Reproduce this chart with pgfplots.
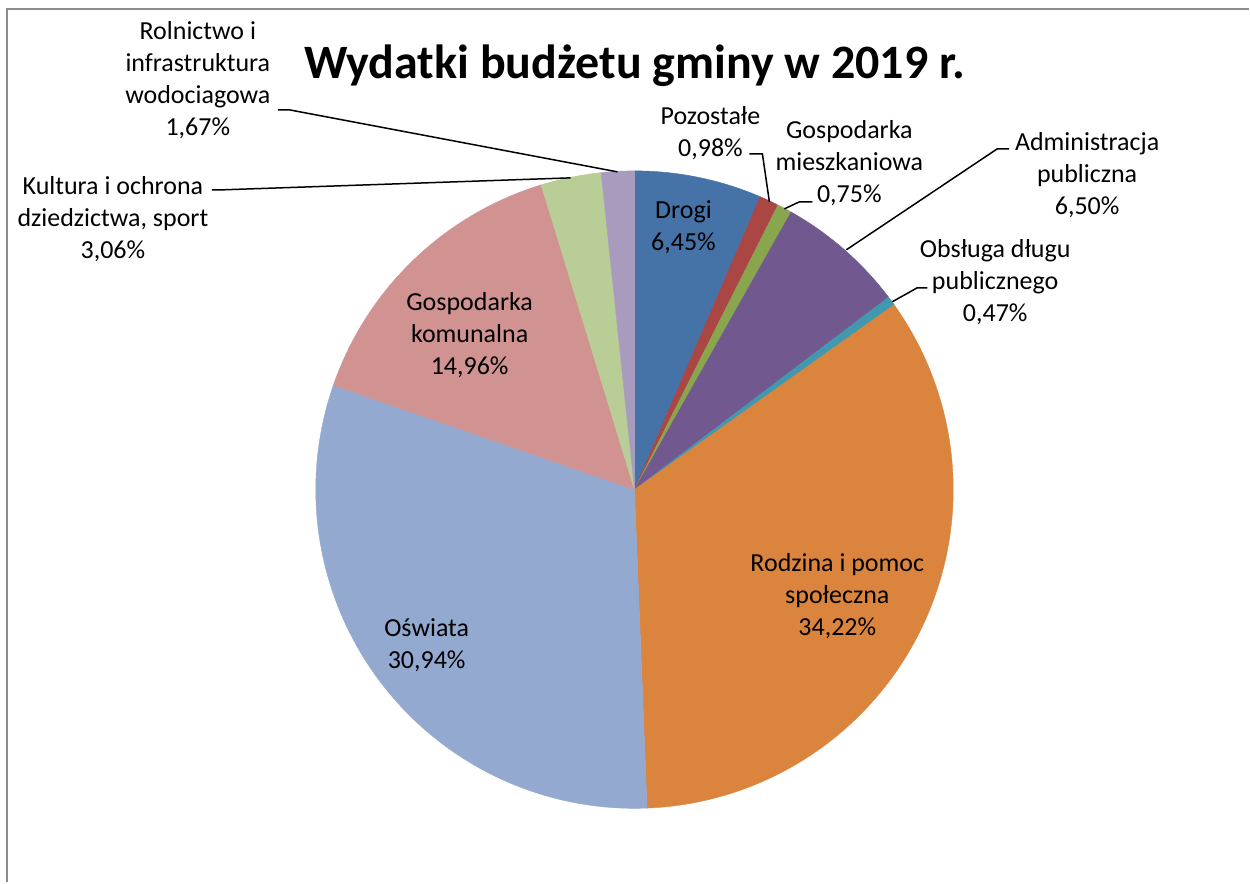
\documentclass[border=0pt]{standalone}
\usepackage{fontspec}
\setmainfont{Carlito}
\usepackage{pgfplots}
\pgfplotsset{compat=1.18}
\definecolor{cDrogi}{HTML}{4572A7}
\definecolor{cPoz}{HTML}{AA4643}
\definecolor{cMiesz}{HTML}{89A54E}
\definecolor{cAdm}{HTML}{71588F}
\definecolor{cDlug}{HTML}{4198AF}
\definecolor{cRodz}{HTML}{DB843D}
\definecolor{cOsw}{HTML}{93A9CF}
\definecolor{cKom}{HTML}{D19392}
\definecolor{cKult}{HTML}{B9CD96}
\definecolor{cRoln}{HTML}{A99BBD}
\tikzset{lab/.style={font=\fontsize{13}{16}\selectfont, align=center, text=black, inner sep=0pt}}
\xdef\cum{0}
\newcommand{\slice}[2]{%
  \pgfmathsetmacro\sa{90-3.6*\cum}%
  \pgfmathsetmacro\newcum{\cum+#1}%
  \xdef\cum{\newcum}%
  \pgfmathsetmacro\sb{90-3.6*\cum}%
  \edef\tmp{\noexpand\addplot[fill=#2, draw=#2, line width=0.2pt, domain=\sb:\sa, samples=120] ({635+319*cos(x)},{490-319*sin(x)}) -- (axis cs:635,490) -- cycle;}%
  \tmp}
\begin{document}
\begin{tikzpicture}
\begin{axis}[
  scale only axis, width=625pt, height=441.5pt,
  xmin=0, xmax=1250, ymin=0, ymax=883, y dir=reverse,
  hide axis, clip=false,
]
% border of chart area
\addplot[color=black!45, line width=1pt] coordinates {(7.5,883) (7.5,9.5) (1250,9.5)};
% slices, clockwise from 12 o'clock (values in %)
\slice{6.45}{cDrogi}
\slice{0.98}{cPoz}
\slice{0.75}{cMiesz}
\slice{6.50}{cAdm}
\slice{0.47}{cDlug}
\slice{34.22}{cRodz}
\slice{30.94}{cOsw}
\slice{14.96}{cKom}
\slice{3.06}{cKult}
\slice{1.67}{cRoln}
% leader lines
\addplot[black, line width=0.75pt] coordinates {(278,110) (290,110) (618,172)};
\addplot[black, line width=0.75pt] coordinates {(212,190) (222,190) (571,178)};
\addplot[black, line width=0.75pt] coordinates {(750,154) (763,154) (770,202)};
\addplot[black, line width=0.75pt] coordinates {(785,209) (800,202) (813,202)};
\addplot[black, line width=0.75pt] coordinates {(847,250) (998,149) (1010,149)};
\addplot[black, line width=0.75pt] coordinates {(893,302) (918,288) (928,288)};
% title
\node[inner sep=0pt, font=\bfseries\fontsize{24}{28}\selectfont] at (axis cs:635,66) {Wydatki budżetu gminy w 2019 r.};
% labels
\node[lab] at (axis cs:198,80) {Rolnictwo i\\infrastruktura\\wodociagowa\\1,67\%};
\node[lab] at (axis cs:113,219) {Kultura i ochrona\\dziedzictwa, sport\\3,06\%};
\node[lab] at (axis cs:711,133) {Pozostałe\\0,98\%};
\node[lab] at (axis cs:850,163) {Gospodarka\\mieszkaniowa\\0,75\%};
\node[lab] at (axis cs:1088,175) {Administracja\\publiczna\\6,50\%};
\node[lab] at (axis cs:996,282) {Obsługa długu\\publicznego\\0,47\%};
\node[lab] at (axis cs:684,227) {Drogi\\6,45\%};
\node[lab] at (axis cs:470,335) {Gospodarka\\komunalna\\14,96\%};
\node[lab] at (axis cs:838,597) {Rodzina i pomoc\\społeczna\\34,22\%};
\node[lab] at (axis cs:427,646) {Oświata\\30,94\%};
\end{axis}
\path (current axis.south west) (current axis.north east);
\end{tikzpicture}
\end{document}
